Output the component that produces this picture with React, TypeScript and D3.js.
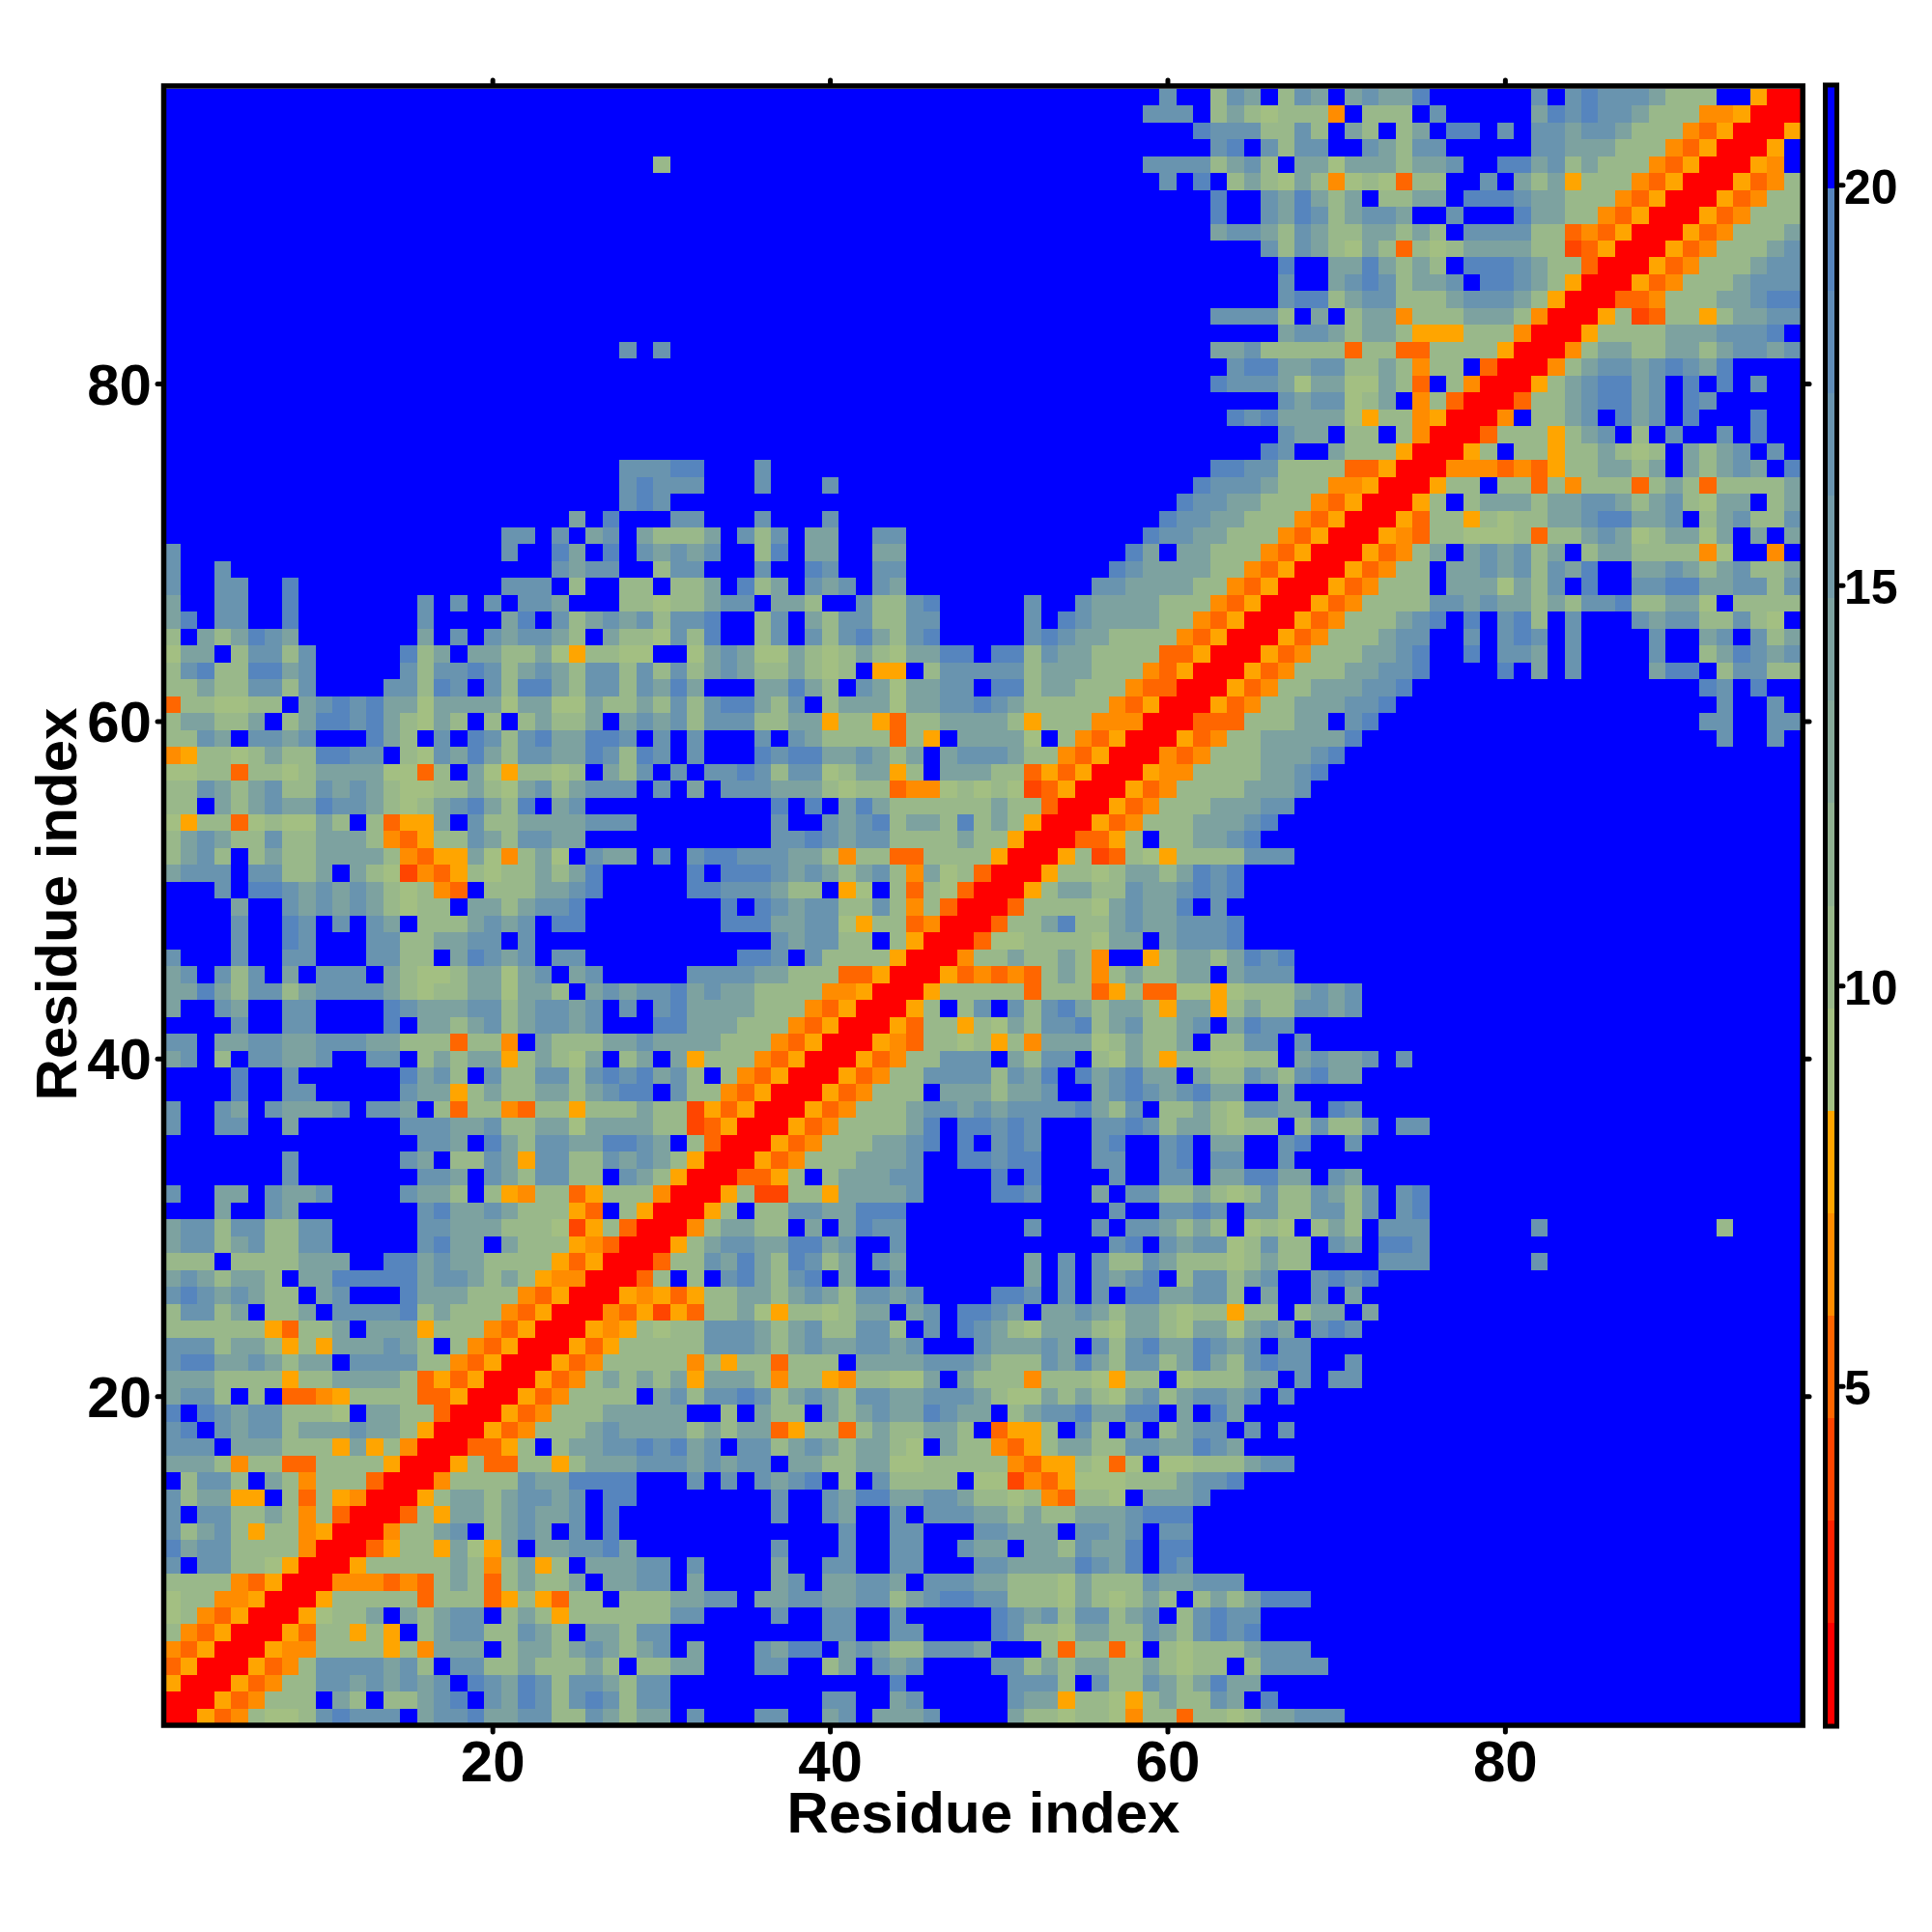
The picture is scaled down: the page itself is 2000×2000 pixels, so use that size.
import React from "react";
import * as d3 from "d3";

// Symmetric residue-residue distance map. Each row y holds classes for x = y, y+1, ...
// (spaces only group by decades of x; anything after the end of a row is class 9).
// Class codes: 0 red, x deep orange-red, 1 orange-red, 2 orange, 3 amber, 4..8 sage to steel, 9 blue.
const upperRows: string[] = [
  "0031254457 8777967786 6775576566 9799977996 7966679999 6554554255 1554566777",
  "003125559 6595567897 6875787577 9999999997 7996799999 7663554356 5576989999",
  "00312557 7676767987 6875776577 9999999999 9998999999 7775975576 5686699999",
  "0031257 7776759775 5655565955 6699977995 6976799997 7565665565 4559577779",
  "003225 5553526669 5665676567 9699976889 6765577769 9951551495 4555677799",
  "00315 5353956775 5765966577 9999999997 7997799998 7554665576 5787899999",
  "0034 5569656779 5653555555 7799997997 7997999998 7675775679 5787799999",
  "003 5555515551 3531559555 6677966776 6775678877 5554654565 9565688899",
  "00 2221215651 5655696677 9699996796 6776977766 5554655576 6777999999",
  "0 0355555652 5635966677 9799996997 7997799977 6666876898 7999999999",
  "0013553643 6966778699 9999997999 7997799766 9665766898 8999999999",
  "002556795 6769798999 9999999999 7997799977 6669776797 7999999999",
  "00153665 6766798999 9999997997 6997977766 5655666788 8999999999",
  "0035665 6776798899 9999997997 6886677655 4521554966 6799999999",
  "002555 5766888899 9797976789 5975555944 x213444555 6778999999",
  "00351 1553566677 7676779665 5664455555 2133541494 4555677999",
  "0011 3595667787 8679775676 5665496552 1356655776 6876999999",
  "003 1255567666 6565661355 1565566591 3359759695 6779797999",
  "00 3125556666 6995965596 5676687669 5677866889 6986999999",
  "0 0312555596 7577875676 5776677765 4465654675 6776797999",
  "0031256565 6366652553 2554469655 5255543559 4555669797 7",
  "003125555 5253551555 9666677765 5576865775 6865787799 7",
  "00313555 5577765676 6776799976 6676975786 6876797799",
  "0032354 5577765675 5775979876 5466654665 4664676978 7",
  "00213x 3155643554 5669679887 6966765665 4553559566 96",
  "00323 1355665676 5776799998 8797979886 6775969979 6",
  "0015 9597865789 6997999999 9697976789 5775679978 78",
  "001 5576865875 6976999999 9697975576 5554565599 9977799999 97",
  "00 3567766886 7997999999 9999997897 6774575597 69887",
  "0 0256655969 6877999999 9799979776 5659454956 5977799999 9799999999 995",
  "0035955776 6888999999 9999997997 7879775577 57978",
  "0035xx553 6666799998 8799969775 5654575576 57978",
  "00113595 6667799998 9899997997 7966886697 6",
  "0031255 5666799887 8899977997 8977997999",
  "003125 5566789897 8799978997 8966997899 7",
  "00312 5555689887 8799977875 6654559575 57977",
  "0031 2555677676 7777865795 5654776698 7",
  "003 1255596665 6679967876 7866996999",
  "00 3125577775 7689867866 9655765786 6",
  "0 0312557779 6577954653 5544559676 6797",
  "0032155453 5266645655 6955779799",
  "003155354 6577856755 6796877999",
  "00359579 7578656653 6635655776 7",
  "0035555 5155513511 4434555676 7",
  "003121 2156525655 6696777999",
  "00255 6556529935 6656878999",
  "0014 4555546696 7778999999",
  "001 5568556766 7778999999",
  "00 1555546766 8979999999",
  "0 0356655766 7878999999",
  "0035545665 6878999999",
  "0035x1543 5555777999",
  "00113595 5667899999",
  "0031255 5666789999",
  "003125 5566677999",
  "00312 5555666799",
  "0032 2555566789",
  "002 1255566678",
  "00 3125566666 8999999999 9999999999 9979979",
  "0 0111555669 7899999999 9999999999 9779977",
  "0031255666 7789999999 9999999999 9979979",
  "003125566 6778999999 9999999999 9879899",
  "00312555 6677899998 9697999968 8957755",
  "0031255 5667899897 7697999979 9568767",
  "003125 5567799797 8797999979 9679756",
  "00312 5556789897 8597999767 7557549",
  "0031 2555577676 6565778556 6495555",
  "003 1255596664 6579899778 8667757",
  "00 3125596676 7576899667 6567556",
  "0 0312569676 7569566555 5249929",
  "0032155444 5155676456 6469696",
  "003155354 5566788667 9567557",
  "00359566 6566776567 5466956",
  "0035595 5152555156 5155556",
  "002221 2135566569 6567698",
  "00359 5535565459 6567979",
  "0015 5535679597 9979899",
  "002 9556798679 8999899",
  "00 1556788679 8799999",
  "0 0356788679 8989799",
  "0025677678 7689999",
  "002566556 6567767",
  "00355556 6677789",
  "0035x15 5356677",
  "001125 5566788",
  "00312 5556777",
  "0031 2555677",
  "003 1255567",
  "00 3125556",
  "0 0312555",
  "0031255",
  "003125",
  "00329",
  "0039",
  "003",
  "00",
  "0",
];

const classValues: Record<string, number> = {
  "0": 1.4, x: 3.9, "1": 5.2, "2": 6.5, "3": 7.8,
  "4": 9.1, "5": 10.3, "6": 13.6, "7": 16.8, "8": 19.3, "9": 20.6,
};

const axisTicks = [20, 40, 60, 80];
const barTicks = [5, 10, 15, 20];
const axisTitle = "Residue index";
const warmColors = ["#ff0000", "#ff2200", "#ff4500", "#ff6600", "#ff8c00", "#ffa500"];
const coolEnds = ["#a3bf82", "#5685be"];
const topColor = "#0000ff";
const N = 97;
const valueDomain: [number, number] = [0.77, 21.24];

const coolColors = d3.quantize(d3.interpolateRgb(coolEnds[0], coolEnds[1]), 9);
const palette = [...warmColors, ...coolColors, topColor];
const color = d3.scaleQuantize<string>().domain(valueDomain).range(palette);

const cells: { x: number; y: number; v: number }[] = [];
upperRows.forEach((row, i) => {
  const codes = row.replace(/ /g, "");
  const y = i + 1;
  for (let x = y; x <= N; x++) {
    const c = x - y < codes.length ? codes[x - y] : "9";
    const v = classValues[c];
    cells.push({ x, y, v });
    if (x !== y) cells.push({ x: y, y: x, v });
  }
});

const FONT = "'Liberation Sans', Arial, sans-serif";

export default function App() {
  const xs = d3.scaleLinear().domain([0.5, N + 0.5]).range([169.5, 1864.1]);
  const ys = d3.scaleLinear().domain([0.5, N + 0.5]).range([1786.3, 91.8]);
  const bar = d3.scaleLinear().domain(valueDomain).range([1786, 89]);
  const cw = xs(1.5) - xs(0.5);
  const ch = ys(0.5) - ys(1.5);
  return (
    <svg
      width={2000}
      height={2000}
      viewBox="0 0 2000 2000"
      style={{ position: "absolute", left: 0, top: 0, display: "block", background: "#fff" }}
      fontFamily={FONT}
      fontWeight="bold"
    >
      <g shapeRendering="crispEdges">
        {cells.map((d) => (
          <rect
            key={d.x + "-" + d.y}
            x={xs(d.x - 0.5)}
            y={ys(d.y + 0.5)}
            width={cw}
            height={ch}
            fill={color(d.v)}
          />
        ))}
      </g>
      <rect x={169.5} y={89} width={1696.7} height={1697} fill="none" stroke="#000" strokeWidth={5.5} />
      {axisTicks.map((t) => (
        <g key={t} stroke="#000" strokeWidth={5} strokeLinecap="round">
          <line x1={xs(t)} x2={xs(t)} y1={1789} y2={1793} />
          <line x1={xs(t)} x2={xs(t)} y1={86} y2={83} />
          <line y1={ys(t)} y2={ys(t)} x1={167} x2={163} />
          <line y1={ys(t)} y2={ys(t)} x1={1869} x2={1873} />
        </g>
      ))}
      {axisTicks.map((t) => (
        <text key={t} x={xs(t)} y={1844} fontSize={60} textAnchor="middle" fill="#000">
          {t}
        </text>
      ))}
      {axisTicks.map((t) => (
        <text key={t} x={157} y={ys(t) + 21} fontSize={60} textAnchor="end" fill="#000">
          {t}
        </text>
      ))}
      <text x={1018} y={1897} fontSize={60} textAnchor="middle" fill="#000">
        {axisTitle}
      </text>
      <text
        transform={`translate(79,936) rotate(-90)`}
        fontSize={60}
        textAnchor="middle"
        fill="#000"
      >
        {axisTitle}
      </text>
      <g shapeRendering="crispEdges">
        {palette.map((c) => {
          const [a, b] = color.invertExtent(c);
          return <rect key={c} x={1889} y={bar(b)} width={13} height={bar(a) - bar(b)} fill={c} />;
        })}
      </g>
      <rect x={1889.5} y={88} width={12} height={1699} fill="none" stroke="#000" strokeWidth={5} />
      {barTicks.map((t) => (
        <g key={t}>
          <line x1={1905} x2={1908} y1={bar(t)} y2={bar(t)} stroke="#000" strokeWidth={5} strokeLinecap="round" />
          <text x={1909} y={bar(t) + 19} fontSize={50} fill="#000">
            {t}
          </text>
        </g>
      ))}
    </svg>
  );
}
